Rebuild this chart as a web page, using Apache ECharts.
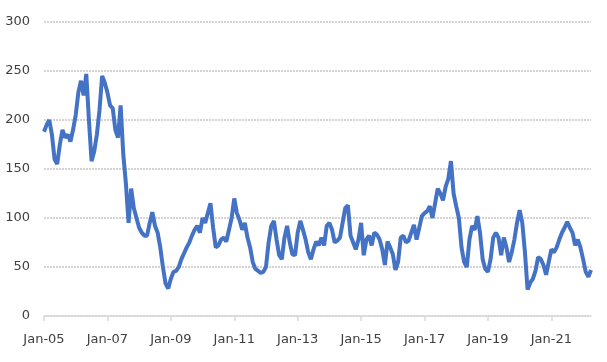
<!DOCTYPE html>
<html>
<head>
<meta charset="utf-8">
<script src="https://cdn.jsdelivr.net/npm/echarts@6/dist/echarts.min.js"></script>
<style>html,body{margin:0;padding:0;background:#fff}#c{width:607px;height:362px}</style>
</head>
<body>
<div id="c"></div>
<script>
// Monthly series, Jan-05 .. Apr-22
const startYear = 2005;
const monthNames = ["Jan","Feb","Mar","Apr","May","Jun","Jul","Aug","Sep","Oct","Nov","Dec"];
const values = [
188,195,200,185,160,155,175,190,182,185,178,190,
205,228,240,225,247,200,158,168,185,210,245,238,
228,215,212,190,182,215,165,135,95,130,110,100,
90,85,82,82,95,106,92,85,70,50,33,28,
38,45,46,50,58,64,70,75,82,88,92,85,
100,95,105,115,90,70,72,78,80,76,88,100,
120,105,98,88,95,80,70,55,48,46,44,45,
50,75,92,97,78,62,58,80,92,75,63,62,
85,97,88,78,65,58,68,76,72,80,72,92,
95,88,75,77,80,95,110,113,82,75,68,78,
95,62,78,82,72,85,83,78,68,52,76,70,
63,47,55,80,82,75,77,85,93,78,90,102,
105,107,112,100,115,130,125,118,132,140,158,125,
112,100,70,55,50,78,92,88,102,85,58,48,
45,58,80,85,80,62,80,70,55,65,78,95,
108,95,65,27,34,38,46,60,58,52,42,55,
68,65,70,78,85,90,96,90,85,72,78,70,
58,45,40,47
];
const categories = values.map((_, i) => monthNames[i % 12] + "-" + String((startYear + Math.floor(i / 12)) % 100).padStart(2, "0"));
const yTicks = {min: 0, max: 300, interval: 50};

const chart = echarts.init(document.getElementById('c'), null, {renderer: 'canvas'});
chart.setOption({
  animation: false,
  backgroundColor: '#ffffff',
  grid: {left: 44, right: 16, top: 22, bottom: 46, containLabel: false},
  xAxis: {
    type: 'category',
    data: categories,
    boundaryGap: false,
    axisLine: {lineStyle: {color: '#d9d9d9', width: 1.5}},
    axisTick: {show: true, length: 5, interval: (i) => i % 24 === 0, lineStyle: {color: '#d9d9d9', width: 1.5}},
    axisLabel: {interval: (i) => i % 24 === 0, color: '#404040', fontFamily: 'DejaVu Sans', fontSize: 13, margin: 17},
    splitLine: {show: false}
  },
  yAxis: {
    type: 'value',
    min: yTicks.min, max: yTicks.max, interval: yTicks.interval,
    axisLine: {show: false},
    axisTick: {show: false},
    axisLabel: {color: '#404040', fontFamily: 'DejaVu Sans', fontSize: 13, margin: 14},
    splitLine: {lineStyle: {color: '#d4d4d4', width: 2, type: [2, 1]}}
  },
  series: [{
    type: 'line',
    data: values,
    symbol: 'none',
    lineStyle: {color: '#4472C4', width: 4},
    z: 3
  }]
});
</script>
</body>
</html>
